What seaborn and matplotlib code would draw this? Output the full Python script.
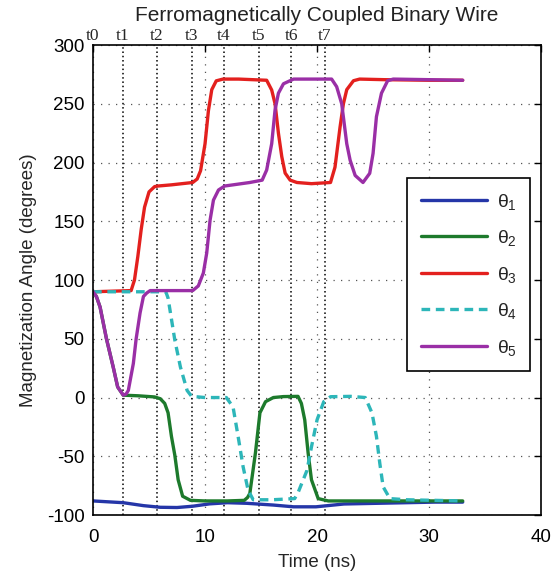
import numpy as np
import pandas as pd
import seaborn as sns
import matplotlib.pyplot as plt
import matplotlib.transforms as mtransforms

# --- data ---
t1 = [0, 2.7, 4.5, 6, 7.5, 8.9, 10.4, 12, 13.7, 16.1, 17.9, 19.9, 22.4, 25.4, 28, 30.5, 33]
th1 = [-88, -89.5, -92, -93.4, -93.6, -92.5, -90.5, -89.5, -90, -91.5, -93, -93, -90.6, -90, -89.5, -89, -89]

t2 = [0, 0.3, 0.63, 1.2, 1.8, 2.2, 2.7, 4, 5.5, 6.0, 6.4, 6.7, 7.0, 7.3, 7.6, 8.0, 8.7, 10, 12, 13.5,
      13.8, 14.0, 14.5, 14.9, 15.4, 16.1, 17, 18.3, 18.6, 18.9, 19.2, 19.5, 20.1, 21, 25, 30, 33]
th2 = [90, 86, 77, 50, 26, 9, 2, 1.5, 0.5, -1, -5, -13, -33, -49, -70, -84, -87.5, -88, -88, -87.5,
       -85, -81.5, -47, -13, -3.5, 0, 0.8, 1, -5, -19, -47, -70, -86, -88, -88, -88, -88]

t3 = [0, 3.4, 3.7, 4.0, 4.3, 4.6, 5.0, 5.5, 5.8, 7, 8.9, 9.3, 9.6, 10.0, 10.3, 10.6, 11.0, 11.6, 13,
      15.5, 15.95, 16.25, 16.55, 16.85, 17.15, 17.6, 18.2, 19.5, 21.2, 21.6, 22.05, 22.35, 22.65,
      23.25, 23.8, 26, 30, 33]
th3 = [90, 91, 100, 120, 143, 162, 175, 179.5, 180, 181, 183, 186, 193, 216, 244, 262, 269.5, 271, 271,
       270, 261.7, 250, 225, 205, 191, 185, 183, 182, 183, 196, 230, 250, 262,
       269.6, 271, 270.5, 270, 270]

t4 = [0, 6.5, 6.7, 7.3, 7.8, 8.4, 8.8, 10, 11.9, 12.5, 12.95, 13.4, 13.85, 14.3, 16, 18.0, 18.3,
      19.1, 19.5, 20.0, 20.6, 21.2, 23, 24.3, 24.9, 25.3, 25.6, 25.9, 26.5, 28, 33]
th4 = [90, 90, 84.6, 49, 26, 6, 1, 0, 0, -8, -33, -59, -79, -87, -87, -86, -81,
       -62, -42, -19, -3.5, 0.7, 1, 0, -13, -33, -56, -76, -86, -87, -88]

t5 = [0, 0.3, 0.63, 1.2, 1.8, 2.2, 2.7, 2.95, 3.15, 3.6, 3.85, 4.2, 4.5, 4.8, 5.1, 6, 8.9, 9.4, 9.85,
      10.15, 10.45, 10.75, 11.2, 11.75, 14, 15.1, 15.5, 15.95, 16.25, 16.55, 17.0, 17.9, 21.3, 21.75,
      22.2, 22.65, 22.95, 23.4, 24.1, 24.7, 25.0, 25.3, 25.75, 26.3, 26.8, 30, 33]
th5 = [90, 86, 77, 50, 26, 9, 2, 3, 6, 29, 50, 72, 86, 89, 91, 91, 91, 95, 106,
       123, 151, 168, 176.6, 180, 183, 185, 193.6, 216, 244.7, 259, 267, 271, 271, 264.5,
       250, 216, 202, 189, 183, 190.8, 207.8, 239, 259, 269.6, 271, 270.5, 270]

event_times = [0, 2.65, 5.7, 8.8, 11.7, 14.8, 17.7, 20.7]
event_labels = ['t0', 't1', 't2', 't3', 't4', 't5', 't6', 't7']

series = [
    (t1, th1, r'$\theta_1$', '#2536a8', '-'),
    (t2, th2, r'$\theta_2$', '#1d7a2c', '-'),
    (t3, th3, r'$\theta_3$', '#e3201e', '-'),
    (t4, th4, r'$\theta_4$', '#2db6b9', (0, (2.6, 1.7))),
    (t5, th5, r'$\theta_5$', '#9a2fa6', '-'),
]

sns.set_style('white')
plt.rcParams['font.family'] = ['Liberation Sans', 'DejaVu Sans']
plt.rcParams['mathtext.fontset'] = 'custom'
plt.rcParams['mathtext.rm'] = 'Liberation Sans'
plt.rcParams['mathtext.it'] = 'Liberation Sans'
plt.rcParams['axes.unicode_minus'] = False

fig = plt.figure(figsize=(5.59, 5.8), dpi=100)
ax = fig.add_axes([0.1664, 0.112, 0.8016, 0.8104])

for tt, vv, lab, col, ls in series:
    df = pd.DataFrame({'t': tt, 'v': vv})
    sns.lineplot(data=df, x='t', y='v', ax=ax, color=col, lw=2.4, linestyle=ls,
                 sort=False, estimator=None, label=lab)

ax.set_xlim(0, 40)
ax.set_ylim(-100, 300)
ax.set_xticks([0, 10, 20, 30, 40])
ax.set_yticks(np.arange(-100, 301, 50))
ax.grid(True, color='#555555', linestyle=(0, (1, 5)), lw=0.9)
ax.set_axisbelow(True)

trans = mtransforms.blended_transform_factory(ax.transData, ax.transAxes)
for et, el in zip(event_times, event_labels):
    if et > 0:
        ax.axvline(et, color='black', linestyle=(0, (1, 1.8)), lw=1.1, zorder=1)
    ax.annotate(el, xy=(et, 1.0), xycoords=trans, xytext=(0, 0.5), textcoords='offset points',
                ha='center', va='bottom', fontsize=12.5, family='Liberation Serif')

for s in ax.spines.values():
    s.set_color('black')
    s.set_linewidth(1.2)
ax.tick_params(direction='in', length=5, width=1, top=True, right=True,
               labelsize=13.5, pad=6, colors='black')
ax.tick_params(axis='x', pad=10)

ax.set_xlabel('Time (ns)', fontsize=13.5, labelpad=6)
ax.set_ylabel('Magnetization Angle (degrees)', fontsize=13.5, labelpad=7)
ax.set_title('Ferromagnetically Coupled Binary Wire', fontsize=15, pad=17.5, color='#222222')

leg = ax.legend(loc='upper right', bbox_to_anchor=(0.976, 0.717), borderaxespad=0, fontsize=14,
                handlelength=3.4, labelspacing=0.85, borderpad=0.7, handletextpad=0.5,
                fancybox=False, framealpha=1, edgecolor='black')
leg.get_frame().set_linewidth(1.2)

fig.savefig('out.png', dpi=100)
